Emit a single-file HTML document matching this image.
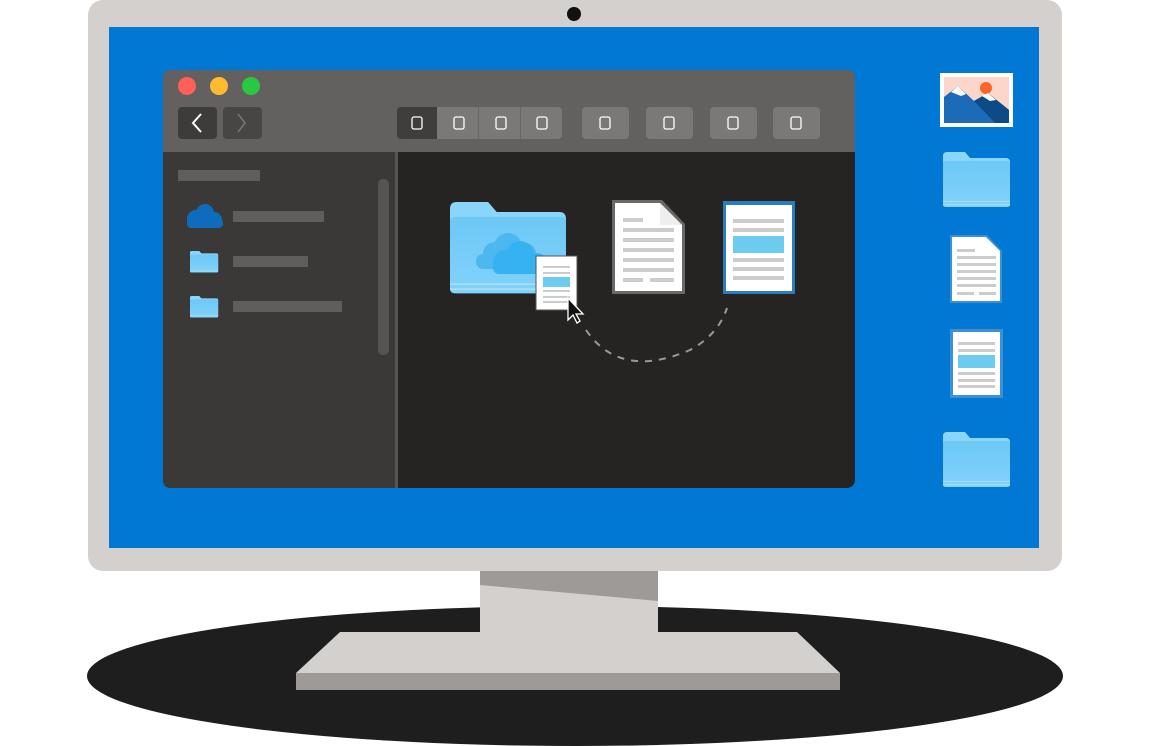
<!DOCTYPE html>
<html><head><style>html,body{margin:0;padding:0;background:#fff;}svg{display:block}</style></head>
<body>
<svg width="1156" height="746" viewBox="0 0 1156 746" xmlns="http://www.w3.org/2000/svg">
<defs>
<linearGradient id="fg" x1="0" y1="0" x2="0" y2="1"><stop offset="0" stop-color="#6cc8f5"/><stop offset="1" stop-color="#82d2fb"/></linearGradient>
<g id="folder">
<path d="M0 4 Q0 0 4 0 H22 L27 6 H63 Q67 6 67 10 V52 Q67 55 64 55 H3 Q0 55 0 52 Z" fill="#8ad6fb"/>
<path d="M0 12 Q0 9 3 9 H64 Q67 9 67 12 V52 Q67 55 64 55 H3 Q0 55 0 52 Z" fill="url(#fg)"/>
<rect x="0" y="49" width="67" height="1" fill="#a8e0fa"/><rect x="0" y="52" width="67" height="1" fill="#a8e0fa"/>
</g>
</defs>
<!-- base ellipse -->
<ellipse cx="575" cy="676" rx="488" ry="70" fill="#1e1e1e"/>
<!-- neck -->
<rect x="480" y="568" width="178" height="64" fill="#d4d0ce"/>
<polygon points="480,568 658,568 658,601 480,585" fill="#9e9a97"/>
<!-- base plate -->
<polygon points="340,632 797,632 840,673 296,673" fill="#d4d0ce"/>
<rect x="296" y="673" width="544" height="17" fill="#9e9a97"/>
<!-- bezel -->
<rect x="88" y="0" width="974" height="571" rx="15" fill="#d4d0ce"/>
<circle cx="574" cy="14" r="7" fill="#111"/>
<rect x="109" y="27" width="930" height="521" fill="#0078d4"/>
<!-- window -->
<rect x="163" y="70" width="692" height="418" rx="8" fill="#252423"/>
<path d="M163 78 Q163 70 171 70 H847 Q855 70 855 78 V152 H163 Z" fill="#636160"/>
<path d="M163 152 H395 V488 H171 Q163 488 163 480 Z" fill="#3a3938"/>
<rect x="395" y="152" width="3" height="336" fill="#555453"/>
<circle cx="187" cy="86" r="9" fill="#fe5f57"/><circle cx="219" cy="86" r="9" fill="#fdbb2f"/><circle cx="251" cy="86" r="9" fill="#29c840"/>
<rect x="178" y="107" width="39" height="32" rx="4" fill="#3d3c3b"/>
<rect x="223" y="107" width="39" height="32" rx="4" fill="#474645"/>
<path d="M201 114 L193 123 L201 132" stroke="#fff" stroke-width="2" fill="none"/>
<path d="M238 114 L245 123 L238 132" stroke="#777" stroke-width="1.5" fill="none"/>
<rect x="397" y="107" width="165" height="32" rx="4" fill="#7a7978"/>
<path d="M401 107 H437 V139 H401 Q397 139 397 135 V111 Q397 107 401 107Z" fill="#3f3e3d"/>
<rect x="478" y="107" width="1" height="32" fill="#666"/><rect x="520" y="107" width="1" height="32" fill="#666"/>
<rect x="582" y="107" width="47" height="32" rx="4" fill="#7a7978"/>
<rect x="646" y="107" width="47" height="32" rx="4" fill="#7a7978"/>
<rect x="710" y="107" width="47" height="32" rx="4" fill="#7a7978"/>
<rect x="773" y="107" width="47" height="32" rx="4" fill="#7a7978"/>
<g fill="none" stroke="#fff" stroke-width="1.3">
<rect x="412" y="117" width="10" height="12" rx="2"/><rect x="454" y="117" width="10" height="12" rx="2"/><rect x="496" y="117" width="10" height="12" rx="2"/><rect x="537" y="117" width="10" height="12" rx="2"/>
<rect x="600" y="117" width="10" height="12" rx="2"/><rect x="664" y="117" width="10" height="12" rx="2"/><rect x="728" y="117" width="10" height="12" rx="2"/><rect x="791" y="117" width="10" height="12" rx="2"/>
</g>
<!-- sidebar -->
<rect x="178" y="170" width="82" height="11" fill="#5f5e5d"/>
<g fill="#0f6cbd"><circle cx="196" cy="219" r="9"/><circle cx="205" cy="213" r="9"/><circle cx="214" cy="220" r="8"/><rect x="187" y="219" width="36" height="9" rx="4"/></g>
<rect x="233" y="211" width="91" height="11" fill="#5f5e5d"/>
<use href="#folder" transform="translate(190,251) scale(0.42,0.39)"/>
<rect x="233" y="256" width="75" height="11" fill="#5f5e5d"/>
<use href="#folder" transform="translate(190,296) scale(0.42,0.39)"/>
<rect x="233" y="301" width="109" height="11" fill="#5f5e5d"/>
<rect x="378" y="179" width="11" height="176" rx="5" fill="#555453"/>
<!-- content folder -->
<use href="#folder" transform="translate(450,202) scale(1.73,1.66)"/>
<g fill="#4db8ef"><circle cx="495" cy="254" r="12"/><circle cx="508" cy="247" r="14"/><circle cx="525" cy="254" r="11"/><rect x="476" y="254" width="60" height="15" rx="7"/></g>
<g fill="#35b2f2"><circle cx="505" cy="262" r="12"/><circle cx="520" cy="255" r="14"/><circle cx="537" cy="263" r="10"/><rect x="493" y="262" width="50" height="12" rx="6"/></g>
<rect x="536" y="256" width="41" height="54" fill="#fff" stroke="#555" stroke-width="1"/>
<g fill="#ccc"><rect x="543" y="266" width="27" height="2"/><rect x="543" y="272" width="27" height="2"/><rect x="543" y="290" width="27" height="2"/><rect x="543" y="296" width="27" height="2"/><rect x="543" y="301" width="27" height="2"/></g>
<rect x="543" y="277" width="27" height="10" fill="#6ccbef"/>
<path d="M568 298 V320 L573 315 L577 323 L580 321 L576 314 L583 314 Z" fill="#111" stroke="#fff" stroke-width="1.3"/>
<!-- doc1 -->
<path d="M612 200 H662 L685 224 V294 H612 Z" fill="#6a6968"/>
<path d="M615 203 H660 L682 225 V291 H615 Z" fill="#fff"/>
<path d="M660 203 V225 H682 Z" fill="#eee"/>
<g fill="#ccc"><rect x="623" y="218" width="20" height="4"/><rect x="623" y="228" width="51" height="4"/><rect x="623" y="238" width="51" height="4"/><rect x="623" y="248" width="51" height="4"/><rect x="623" y="258" width="51" height="4"/><rect x="623" y="268" width="51" height="4"/><rect x="623" y="278" width="20" height="4"/><rect x="650" y="278" width="24" height="4"/></g>
<!-- doc2 -->
<rect x="723" y="201" width="72" height="93" fill="#2a7cc0"/>
<rect x="726" y="205" width="66" height="86" fill="#fff"/>
<g fill="#ccc"><rect x="733" y="219" width="51" height="4"/><rect x="733" y="228" width="51" height="4"/><rect x="733" y="258" width="51" height="4"/><rect x="733" y="267" width="51" height="4"/><rect x="733" y="276" width="51" height="4"/></g>
<rect x="733" y="236" width="51" height="17" fill="#6ccbef"/>
<path d="M586 330 Q620 380 690 350 Q718 335 727 308" fill="none" stroke="#999" stroke-width="2" stroke-dasharray="7,7"/>
<!-- desktop icons -->
<rect x="940" y="73" width="73" height="54" fill="#fff"/>
<rect x="944" y="77" width="65" height="46" fill="#fcd6c8"/>
<circle cx="986" cy="88" r="6" fill="#f7672a"/>
<path d="M944 97 L958 86 L974 101 L988 93 L1009 110 V123 H944 Z" fill="#1b6bb8"/>
<path d="M974 101 L988 93 L1009 110 V123 H995 Z" fill="#0d4a86"/>
<path d="M951 92 L958 86 L966 94 L961 96 Z M982 96 L988 93 L996 100 L990 101Z" fill="#fff"/>
<use href="#folder" transform="translate(943,152)"/>
<path d="M950 235 H987 L1002 251 V303 H950 Z" fill="#3d8fd6"/>
<path d="M952 237 H986 L1000 251 V301 H952 Z" fill="#fff"/>
<g fill="#ccc"><rect x="957" y="249" width="18" height="3"/><rect x="957" y="256" width="39" height="3"/><rect x="957" y="263" width="39" height="3"/><rect x="957" y="270" width="39" height="3"/><rect x="957" y="277" width="39" height="3"/><rect x="957" y="284" width="39" height="3"/><rect x="957" y="292" width="17" height="3"/><rect x="979" y="292" width="17" height="3"/></g>
<rect x="950" y="329" width="53" height="69" fill="#3d8fd6"/>
<rect x="953" y="332" width="47" height="63" fill="#fff"/>
<g fill="#ccc"><rect x="958" y="342" width="37" height="3"/><rect x="958" y="349" width="37" height="3"/><rect x="958" y="372" width="37" height="3"/><rect x="958" y="379" width="37" height="3"/><rect x="958" y="385" width="37" height="3"/></g>
<rect x="958" y="355" width="37" height="13" fill="#6ccbef"/>
<use href="#folder" transform="translate(943,432)"/>
</svg>
</body></html>
